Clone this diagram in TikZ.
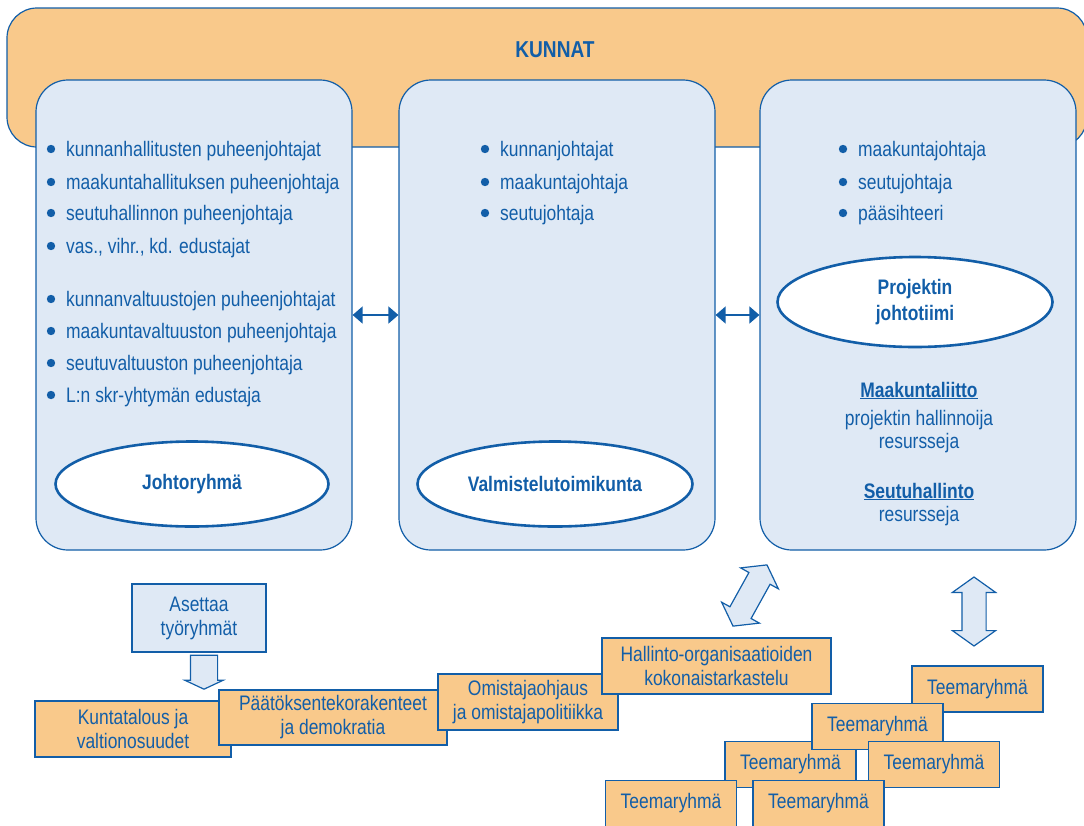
\documentclass[tikz,border=0pt]{standalone}
\usepackage{fontspec}
\setmainfont[FakeStretch=0.83]{Liberation Sans}
\usepackage{xcolor}
\usetikzlibrary{arrows.meta,positioning,shapes.geometric,shapes.arrows}
\definecolor{kblue}{RGB}{18,94,168}
\definecolor{korange}{RGB}{249,201,139}
\definecolor{klight}{RGB}{223,233,245}

\begin{document}
\begin{tikzpicture}[x=1pt, y=-1pt,
    every node/.style={font=\fontsize{21}{24}\selectfont, text=kblue},
    kunnat/.style={draw=kblue, line width=1.2pt, fill=korange, rounded corners=30pt},
    panel/.style={draw=kblue, line width=1.2pt, fill=klight, rounded corners=32pt, minimum width=316pt, minimum height=470pt},
    oval/.style={ellipse, draw=kblue, line width=2.6pt, fill=white, align=center, font=\fontsize{21}{25}\selectfont\bfseries},
    topic/.style={draw=kblue, line width=1.2pt, fill=korange, align=center, inner sep=0pt},
    teema/.style={topic, minimum width=131pt, minimum height=46pt},
    blockarrow/.style={draw=kblue, line width=1.2pt, fill=klight},
    link/.style={kblue, line width=1.5pt, {Triangle[length=10pt,width=17pt]}-{Triangle[length=10pt,width=17pt]}}]
    \useasboundingbox (0,0) rectangle (1084,825);

    % top frame and the three panels
    \node[kunnat, minimum width=1080pt, minimum height=139pt] (kunnat) at (547,77.5) {};
    \node[font=\fontsize{23}{27}\selectfont\bfseries] (kunnattitle) at (555,50) {KUNNAT};
    \node[panel] (johto) at (194,315) {};
    \node[panel] (valmis) at (557,315) {};
    \node[panel] (projekti) at (918,315) {};

    % bullet lists
    \foreach \y/\txt in {149/kunnanhallitusten puheenjohtajat, 182/maakuntahallituksen puheenjohtaja,
        213/seutuhallinnon puheenjohtaja, 246/{vas., vihr., kd. edustajat},
        299/kunnanvaltuustojen puheenjohtajat, 331/maakuntavaltuuston puheenjohtaja,
        363/seutuvaltuuston puheenjohtaja, 395/L:n skr-yhtymän edustaja} {
      \fill[kblue] (51,\y) circle (4.2pt);
      \node[anchor=base west, inner sep=0pt] (jl\y) at (66,\y+7) {\txt};
    }
    \foreach \y/\txt in {149/kunnanjohtajat, 182/maakuntajohtaja, 213/seutujohtaja} {
      \fill[kblue] (485,\y) circle (4.2pt);
      \node[anchor=base west, inner sep=0pt] (vl\y) at (500,\y+7) {\txt};
    }
    \foreach \y/\txt in {149/maakuntajohtaja, 182/seutujohtaja, 213/pääsihteeri} {
      \fill[kblue] (843,\y) circle (4.2pt);
      \node[anchor=base west, inner sep=0pt] (pl\y) at (858,\y+7) {\txt};
    }

    % ovals
    \node[oval, minimum width=273pt, minimum height=85pt] (johtoryhma) at (192,484) {Johtoryhmä};
    \node[oval, minimum width=275pt, minimum height=85pt] (valmistelu) at (555,484) {Valmistelutoimikunta};
    \node[oval, minimum width=275pt, minimum height=90pt] (johtotiimi) at (915,302) {Projektin\\[1pt]johtotiimi};

    % resources in the right panel
    \node[anchor=base, font=\fontsize{21}{24}\selectfont\bfseries] (maakliitto) at (919,397) {\underline{Maakuntaliitto}};
    \node[anchor=base] (hallinnoija) at (919,425) {projektin hallinnoija};
    \node[anchor=base] (resurssit1) at (919,448) {resursseja};
    \node[anchor=base, font=\fontsize{21}{24}\selectfont\bfseries] (seutuhall) at (919,498) {\underline{Seutuhallinto}};
    \node[anchor=base] (resurssit2) at (919,521) {resursseja};

    \draw[link] (johto.east) -- (valmis.west);
    \draw[link] (valmis.east) -- (projekti.west);

    % working groups
    \node[blockarrow, minimum width=134pt, minimum height=68pt, align=center] (asettaa) at (199,618) {Asettaa\\työryhmät};
    \node[blockarrow, single arrow, rotate=-90, minimum height=34pt, minimum width=37pt, inner sep=13pt,
        single arrow head extend=5.5pt, single arrow tip angle=130] (alas) at (204,669) {};
    \node[topic, minimum width=196pt, minimum height=56pt] (kuntatalous) at (133,729) {Kuntatalous ja\\valtionosuudet};
    \node[topic, minimum width=228pt, minimum height=55pt] (paatos) at (333,717.5) {Päätöksentekorakenteet\\ja demokratia};
    \node[topic, minimum width=180pt, minimum height=56pt] (omistaja) at (528,702) {Omistajaohjaus\\ja omistajapolitiikka};
    \node[topic, minimum width=229pt, minimum height=56pt] (hallinto) at (716.5,666) {Hallinto-organisaatioiden\\kokonaistarkastelu};

    \node[blockarrow, double arrow, rotate=61, minimum height=70pt, minimum width=42pt, inner sep=11.5pt,
        double arrow head extend=9.5pt, double arrow tip angle=109] (vinonuoli) at (750,595.5) {};
    \node[blockarrow, double arrow, rotate=90, minimum height=69pt, minimum width=42pt, inner sep=11.5pt,
        double arrow head extend=9.5pt, double arrow tip angle=109] (pystynuoli) at (974,611.5) {};

    \node[teema] (teema1) at (977.5,689) {Teemaryhmä};
    \node[teema] (teema3) at (790.5,764.5) {Teemaryhmä};
    \node[teema] (teema2) at (877.5,726.5) {Teemaryhmä};
    \node[teema] (teema4) at (934,764.5) {Teemaryhmä};
    \node[teema] (teema6) at (671,803.5) {Teemaryhmä};
    \node[teema] (teema5) at (818.5,803.5) {Teemaryhmä};
\end{tikzpicture}
\end{document}
